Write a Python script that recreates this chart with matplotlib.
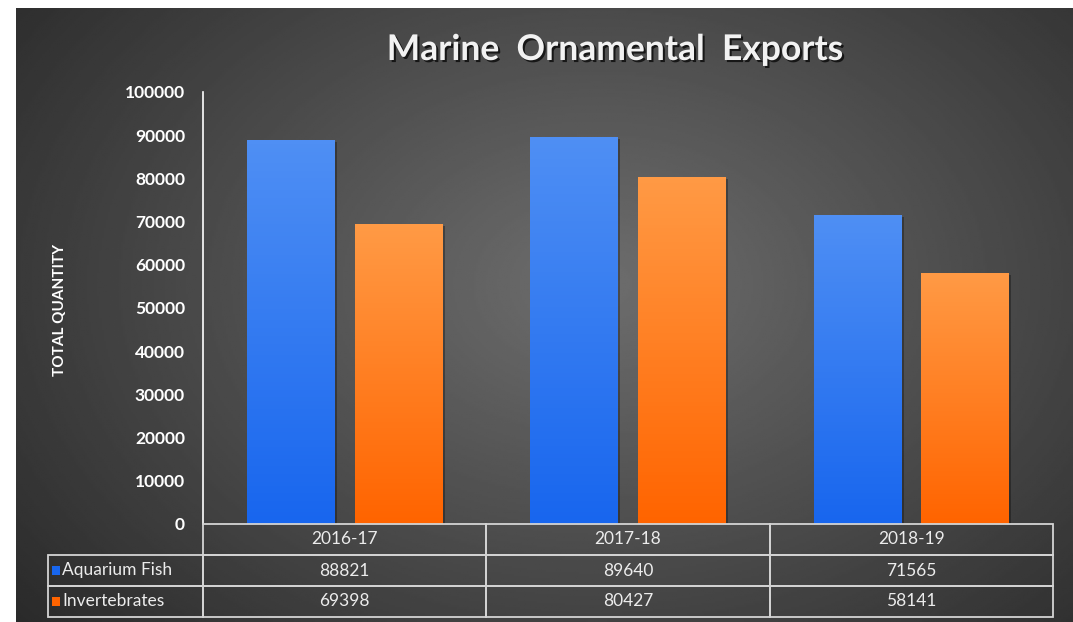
import numpy as np
import matplotlib
matplotlib.use("Agg")
import matplotlib.pyplot as plt
from matplotlib.patches import Rectangle
from matplotlib.colors import LinearSegmentedColormap
from matplotlib import patheffects as pe

years = ["2016-17", "2017-18", "2018-19"]
series = ["Aquarium Fish", "Invertebrates"]
fish = [88821, 89640, 71565]
invert = [69398, 80427, 58141]
yticks = list(range(0, 100001, 10000))

blue_top, blue_bot = "#4f8ff4", "#1866ee"
orange_top, orange_bot = "#ff9a45", "#ff6400"

plt.rcParams["font.family"] = ["Lato", "DejaVu Sans"]

W, H = 1073, 622
fig = plt.figure(figsize=(W / 100, H / 100), dpi=100, facecolor="white")


def fx(px):
    return px / W


def fy(py):
    return 1 - py / H


# dark radial background
bg = fig.add_axes([fx(16), 0, 1 - fx(16), 1 - 8 / H])
bg.set_axis_off()
yy, xx = np.mgrid[0:1:300j, 0:1:500j]
r = np.sqrt(((xx - 0.55) / 0.7) ** 2 + ((yy - 0.45) / 0.85) ** 2)
shade = np.clip(0.43 - 0.26 * r, 0.14, 0.45)
bg.imshow(shade, cmap="gray", vmin=0, vmax=1, aspect="auto",
          extent=[0, 1, 0, 1], origin="upper")
bg.set_xlim(0, 1)
bg.set_ylim(0, 1)

ax = fig.add_axes([fx(203), fy(524), fx(1053) - fx(203), (524 - 92) / H])
ax.patch.set_alpha(0)

x = np.arange(len(years))
w = 0.31
shadow = [pe.SimplePatchShadow(offset=(1.5, -1.5), shadow_rgbFace="black", alpha=0.3), pe.Normal()]
for vals, off, top, bot in [(fish, -0.19, blue_top, blue_bot),
                            (invert, 0.19, orange_top, orange_bot)]:
    cmap = LinearSegmentedColormap.from_list("g", [bot, top])
    bars = ax.bar(x + off, vals, w, color=bot, zorder=2, path_effects=shadow)
    for b in bars:
        grad = np.linspace(1, 0, 100).reshape(-1, 1)
        im = ax.imshow(grad, cmap=cmap, vmin=0, vmax=1, aspect="auto", zorder=3,
                       extent=[b.get_x(), b.get_x() + b.get_width(), 0, b.get_height()])
        im.set_clip_path(b)

ax.set_xlim(-0.5, 2.5)
ax.set_ylim(0, 100000)
ax.set_xticks([])
ax.set_yticks(yticks)
ax.set_yticklabels([str(t) for t in yticks], color="white", fontsize=12.5, fontweight="bold")
ax.tick_params(axis="y", length=0, pad=13)
for s in ["top", "right", "bottom"]:
    ax.spines[s].set_visible(False)
ax.spines["left"].set_color("white")
ax.spines["left"].set_linewidth(1.2)

fig.text(fx(60), fy(310), "TOTAL QUANTITY", rotation=90, ha="center", va="center",
         color="white", fontsize=11, fontweight="bold")

fig.text(fx(615), fy(50), "Marine  Ornamental  Exports", ha="center", va="center",
         color="#f2f2f2", fontsize=25.5, fontweight="bold",
         path_effects=[pe.SimplePatchShadow(offset=(1.5, -1.5), shadow_rgbFace="black", alpha=0.7),
                       pe.Normal()])

# data table under the axis, drawn in axes coordinates
edge = "#d4d4d4"
row_h = 31 / 432
lab_x0 = (48 - 203) / 850
txt_kw = dict(transform=ax.transAxes, color="#ececec", fontsize=12.5,
              va="center", clip_on=False)


def cell(x0, y0, cw, ch):
    ax.add_patch(Rectangle((x0, y0), cw, ch, transform=ax.transAxes, facecolor="none",
                           edgecolor=edge, linewidth=1.3, clip_on=False, zorder=5))


for j, yr in enumerate(years):
    cell(j / 3, -row_h, 1 / 3, row_h)
    ax.text((j + 0.5) / 3, -row_h / 2, yr, ha="center", **txt_kw)

for i, (name, vals, c) in enumerate([(series[0], fish, blue_bot), (series[1], invert, orange_bot)]):
    yb = -row_h * (i + 2)
    cell(lab_x0, yb, -lab_x0, row_h)
    ax.add_patch(Rectangle(((52 - 203) / 850, yb + row_h / 2 - 4.5 / 432), 8 / 850, 9 / 432,
                           transform=ax.transAxes, facecolor=c, edgecolor="none",
                           clip_on=False, zorder=6))
    ax.text((62 - 203) / 850, yb + row_h / 2, name, ha="left", **txt_kw)
    for j, v in enumerate(vals):
        cell(j / 3, yb, 1 / 3, row_h)
        ax.text((j + 0.5) / 3, yb + row_h / 2, str(v), ha="center", **txt_kw)

fig.savefig("out.png", dpi=100, facecolor=fig.get_facecolor())
